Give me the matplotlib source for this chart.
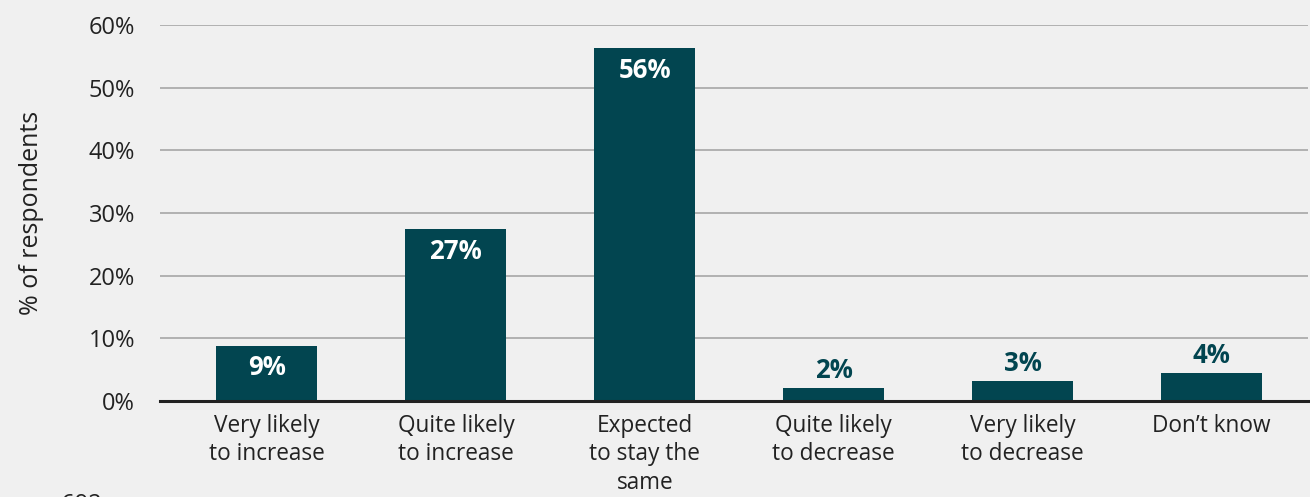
import matplotlib.pyplot as plt

# data
categories = ["Very likely\nto increase", "Quite likely\nto increase", "Expected\nto stay the\nsame",
              "Quite likely\nto decrease", "Very likely\nto decrease", "Don\u2019t know"]
values = [8.8, 27.4, 56.3, 2.1, 3.2, 4.5]
labels = ["9%", "27%", "56%", "2%", "3%", "4%"]
yticks = [0, 10, 20, 30, 40, 50, 60]

plt.rcParams['font.family'] = ['Open Sans', 'DejaVu Sans']
bg = '#f0f0f0'
bar_col = '#024550'
txt_col = '#222222'

fig = plt.figure(figsize=(13.1, 4.97), dpi=100, facecolor=bg)
ax = fig.add_axes([0.122, 0.193, 0.8765, 0.7567], facecolor=bg)

x = list(range(len(categories)))
bars = ax.bar(x, values, width=0.535, color=bar_col, zorder=3)

# value labels: inside for tall bars, above for short ones
for b, v, lab in zip(bars, values, labels):
    cx = b.get_x() + b.get_width() / 2
    if v > 6:
        ax.annotate(lab, (cx, v), xytext=(0, -6), textcoords='offset points',
                    ha='center', va='top', color='white', fontsize=18.5, fontweight='bold', zorder=4)
    else:
        ax.annotate(lab, (cx, v), xytext=(0, 3), textcoords='offset points',
                    ha='center', va='bottom', color=bar_col, fontsize=18.5, fontweight='bold', zorder=4)

ax.set_xlim(-0.567, 5.51)
ax.set_ylim(0, 60)
ax.set_yticks(yticks)
ax.set_yticklabels([f"{t}%" for t in yticks])
ax.set_xticks(x)
ax.set_xticklabels(categories, linespacing=1.27)

ax.yaxis.grid(True, color='#a6a6a6', linewidth=1.2, zorder=0)
ax.tick_params(axis='y', length=0, pad=18, labelsize=17, labelcolor=txt_col)
ax.tick_params(axis='x', length=0, pad=9, labelsize=16.3, labelcolor=txt_col)
for s in ['top', 'right', 'left']:
    ax.spines[s].set_visible(False)
ax.spines['bottom'].set_color('#222222')
ax.spines['bottom'].set_linewidth(2.2)
ax.spines['bottom'].set_zorder(5)

ax.set_ylabel("% of respondents", fontsize=18, color=txt_col, labelpad=32)

fig.text(0.016, 0.008, "n = 692", fontsize=17, color=txt_col, ha='left', va='top')

fig.savefig('out.png', dpi=100, facecolor=bg)
